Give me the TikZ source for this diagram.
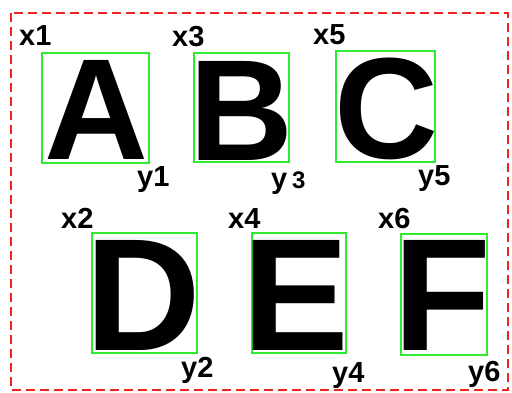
\documentclass[tikz,border=0pt]{standalone}
\usepackage{fontspec}
\setmainfont{Liberation Sans}
\definecolor{boxgreen}{RGB}{45,235,45}
\definecolor{framered}{RGB}{240,35,35}

\begin{document}
\begin{tikzpicture}[x=1pt,y=-1pt,
    glyph/.style={anchor=base,inner sep=0pt,text height=103pt,text depth=0pt,
        font=\fontsize{144}{144}\selectfont\bfseries},
    bigglyph/.style={anchor=base,inner sep=0pt,text height=115pt,text depth=0pt,
        font=\fontsize{160}{160}\selectfont\bfseries},
    tag/.style={anchor=base west,inner sep=0pt,text height=21pt,text depth=6pt,
        font=\fontsize{29}{29}\selectfont\bfseries},
    bbox/.style={draw=boxgreen,line width=2pt},
    frame/.style={draw=framered,line width=2pt,dash pattern=on 9pt off 5pt}]
    \useasboundingbox[fill=white] (0,0) rectangle (512,392);

    % outer frame
    \draw[frame] (11,13) rectangle (508,390);

    % top row
    \draw[bbox] (42,53) rectangle (149,163);
    \draw[bbox] (194,53) rectangle (289,162);
    \draw[bbox] (336,51) rectangle (435,162);

    \node[glyph] (A) at (96.5,159) {A};
    \node[glyph] (B) at (241,160) {B};
    \node[glyph] (C) at (386,158) {C};

    % bottom row
    \draw[bbox] (92,233) rectangle (197,353);
    \draw[bbox] (252,233) rectangle (346,353);
    \draw[bbox] (401,234) rectangle (487,355);

    \node[bigglyph] (D) at (143,350) {D};
    \node[bigglyph] (E) at (296,350) {E};
    \node[bigglyph] (F) at (442,350) {F};

    % corner labels
    \node[tag] (x1) at (19,45) {x1};
    \node[tag] (x3) at (172,46) {x3};
    \node[tag] (x5) at (313,44) {x5};
    \node[tag] (y1) at (137,186) {y1};
    \node[tag] (y3) at (271,188) {y\,{\fontsize{24}{24}\selectfont 3}};
    \node[tag] (y5) at (418,185) {y5};

    \node[tag] (x2) at (61,228) {x2};
    \node[tag] (x4) at (228,228) {x4};
    \node[tag] (x6) at (378,228) {x6};
    \node[tag] (y2) at (181,377) {y2};
    \node[tag] (y4) at (332,382) {y4};
    \node[tag] (y6) at (468,381) {y6};
\end{tikzpicture}
\end{document}
